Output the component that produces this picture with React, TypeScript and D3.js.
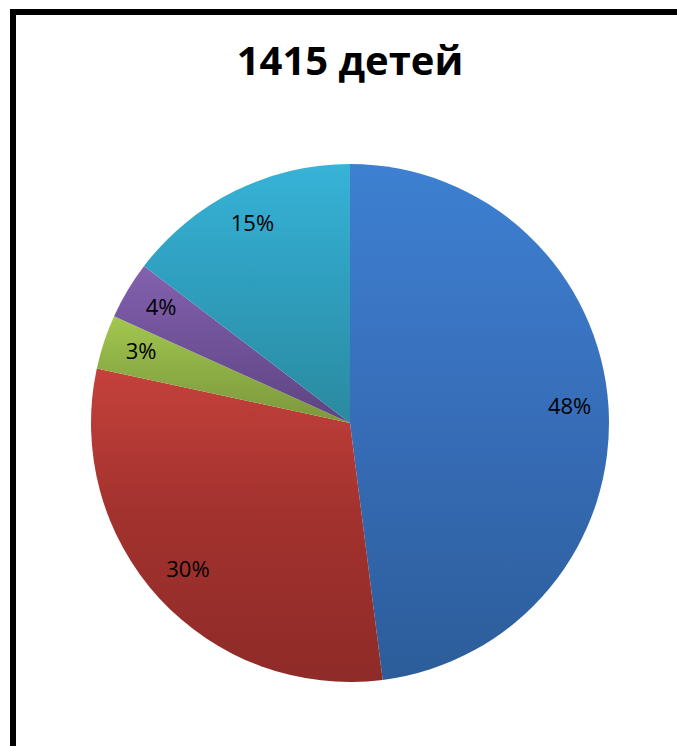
import * as React from "react";
import * as d3 from "d3";

// children per group, 1415 total
const categories = ["A", "B", "C", "D", "E"];
const counts = [679, 430, 48, 51, 207];
const topColors = ["#3d80d1", "#c5413c", "#a3c84f", "#8361af", "#37b3d7"];
const midColors = ["#386fbb", "#a3322e", "#8fb046", "#71539a", "#2f9fbf"];
const bottomColors = ["#2c5d9a", "#8e2b28", "#7c983c", "#5e4482", "#2a8a9f"];
const title = "1415 детей";

interface Slice {
  name: string;
  value: number;
  i: number;
}

const width = 677;
const height = 746;
const cx = 350;
const cy = 423;
const radius = 259;
const labelRadius = 220;

export default function App() {
  const data: Slice[] = categories.map((name, i) => ({ name, value: counts[i], i }));
  const total = d3.sum(counts);

  const pie = d3
    .pie<Slice>()
    .sort(null)
    .value((d) => d.value);
  const arcs = pie(data);

  const arc = d3.arc<d3.PieArcDatum<Slice>>().innerRadius(0).outerRadius(radius);
  const labelArc = d3
    .arc<d3.PieArcDatum<Slice>>()
    .innerRadius(labelRadius)
    .outerRadius(labelRadius);

  return (
    <svg
      width={width}
      height={height}
      style={{ position: "absolute", left: 0, top: 0, background: "#fff" }}
    >
      <defs>
        {data.map((d) => (
          <linearGradient key={d.name} id={`grad-${d.i}`} x1="0" y1="0" x2="0" y2="1">
            <stop offset="0%" stopColor={topColors[d.i]} />
            <stop offset="45%" stopColor={midColors[d.i]} />
            <stop offset="100%" stopColor={bottomColors[d.i]} />
          </linearGradient>
        ))}
      </defs>
      {/* chart area border, runs off the window on the right and bottom */}
      <rect x={13} y={12} width={width + 20} height={height + 20} fill="none" stroke="#000" strokeWidth={6} />
      <text
        x={cx}
        y={75}
        textAnchor="middle"
        fontFamily='"Open Sans", sans-serif'
        fontWeight="bold"
        fontSize={40}
        fill="#000"
      >
        {title}
      </text>
      <g transform={`translate(${cx}, ${cy})`}>
        {arcs.map((a) => (
          <path key={a.data.name} d={arc(a) || ""} fill={`url(#grad-${a.data.i})`} />
        ))}
        {arcs.map((a) => {
          const [x, y] = labelArc.centroid(a);
          return (
            <text
              key={a.data.name}
              x={x}
              y={y - 4}
              textAnchor="middle"
              dominantBaseline="central"
              fontFamily='"Open Sans", sans-serif'
              fontSize={22}
              fill="#000"
            >
              {Math.round((a.data.value / total) * 100)}%
            </text>
          );
        })}
      </g>
    </svg>
  );
}
